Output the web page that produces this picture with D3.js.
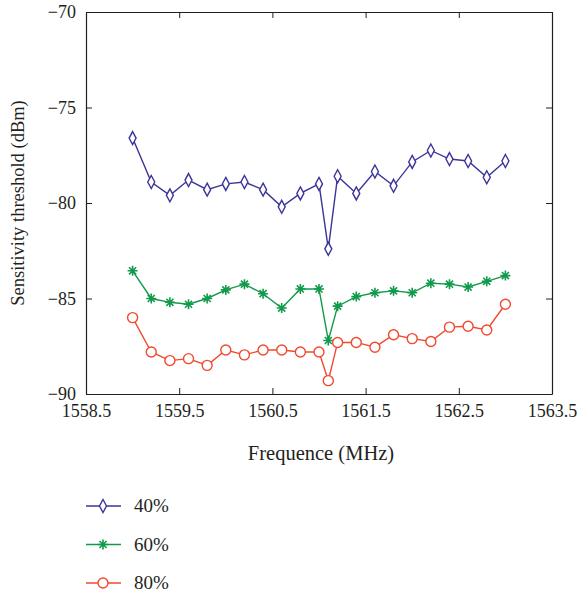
<!DOCTYPE html>
<html lang="en">
  <head>
    <meta charset="UTF-8" />
    <title>Sensitivity threshold</title>
    <script src="https://d3js.org/d3.v7.min.js"></script>
    <style>
      body { margin: 0; background: #fff; }
      svg text { font-family: "Liberation Serif", "Times New Roman", Times, "DejaVu Serif", serif !important; fill: #231f20; }
      .tick text { font-size: 18px; }
    </style>
  </head>
  <body>
    <svg id="chart" width="581" height="597"></svg>
    <script>
      // Data
      const freq = [1559.0, 1559.2, 1559.4, 1559.6, 1559.8, 1560.0, 1560.2, 1560.4, 1560.6, 1560.8, 1561.0,
                    1561.1, 1561.2, 1561.4, 1561.6, 1561.8, 1562.0, 1562.2, 1562.4, 1562.6, 1562.8, 1563.0];
      const s40 = [-76.6, -78.9, -79.6, -78.8, -79.3, -79.0, -78.9, -79.3, -80.2, -79.5, -79.0,
                   -82.4, -78.6, -79.5, -78.35, -79.1, -77.85, -77.25, -77.7, -77.8, -78.65, -77.8];
      const s60 = [-83.55, -85.0, -85.2, -85.3, -85.0, -84.55, -84.25, -84.75, -85.5, -84.5, -84.5,
                   -87.2, -85.4, -84.9, -84.7, -84.6, -84.7, -84.2, -84.25, -84.4, -84.1, -83.8];
      const s80 = [-86.0, -87.8, -88.25, -88.15, -88.5, -87.7, -87.95, -87.7, -87.7, -87.8, -87.8,
                   -89.3, -87.3, -87.3, -87.55, -86.9, -87.1, -87.25, -86.5, -86.45, -86.65, -85.3];
      const xTicks = [1558.5, 1559.5, 1560.5, 1561.5, 1562.5, 1563.5];
      const yTicks = [-90, -85, -80, -75, -70];

      const series = [
        { name: "40%", values: s40, color: "#3b3599", marker: "diamond" },
        { name: "60%", values: s60, color: "#129a4c", marker: "star" },
        { name: "80%", values: s80, color: "#f1492f", marker: "circle" },
      ];

      const margin = { top: 12, left: 86, right: 29, bottom: 203 };
      const width = 581 - margin.left - margin.right;
      const height = 597 - margin.top - margin.bottom;

      const svg = d3.select("#chart");
      const g = svg.append("g").attr("transform", `translate(${margin.left},${margin.top})`);

      const x = d3.scaleLinear().domain([1558.5, 1563.5]).range([0, width]);
      const y = d3.scaleLinear().domain([-90, -70]).range([height, 0]);

      const fmt = (d) => (d < 0 ? "\u2212" + Math.abs(d) : d);

      // Axes (box with inward ticks)
      const axisStyle = (sel) => {
        sel.attr("font-family", null);
        sel.select(".domain").attr("stroke", "#231f20").attr("stroke-width", 1.2);
        sel.selectAll(".tick line").attr("stroke", "#231f20");
      };
      g.append("g").attr("transform", `translate(0,${height})`)
        .call(d3.axisBottom(x).tickValues(xTicks).tickSize(-6).tickSizeOuter(0).tickPadding(10).tickFormat(d3.format(".1f")))
        .call(axisStyle);
      g.append("g")
        .call(d3.axisLeft(y).tickValues(yTicks).tickSize(-6).tickSizeOuter(0).tickPadding(10).tickFormat(fmt))
        .call(axisStyle);
      g.append("g")
        .call(d3.axisTop(x).tickValues(xTicks).tickSize(-6).tickSizeOuter(0).tickFormat(""))
        .call(axisStyle);
      g.append("g").attr("transform", `translate(${width},0)`)
        .call(d3.axisRight(y).tickValues(yTicks).tickSize(-6).tickSizeOuter(0).tickFormat(""))
        .call(axisStyle);

      // Markers
      function drawMarker(sel, type, color) {
        if (type === "diamond") {
          sel.append("path").attr("d", "M0,-6.5L3.5,0L0,6.5L-3.5,0Z")
            .attr("fill", "#fff").attr("stroke", color).attr("stroke-width", 1.4);
        } else if (type === "star") {
          const r = 5;
          let d = "";
          for (let k = 0; k < 4; k++) {
            const a = (k * Math.PI) / 4;
            d += `M${-r * Math.cos(a)},${-r * Math.sin(a)}L${r * Math.cos(a)},${r * Math.sin(a)}`;
          }
          sel.append("path").attr("d", d).attr("stroke", color).attr("stroke-width", 1.6);
        } else {
          sel.append("circle").attr("r", 5)
            .attr("fill", "#fff").attr("stroke", color).attr("stroke-width", 1.4);
        }
      }

      const line = d3.line().x((d, i) => x(freq[i])).y((d) => y(d));

      series.forEach((s) => {
        g.append("path").datum(s.values)
          .attr("fill", "none").attr("stroke", s.color).attr("stroke-width", 1.4)
          .attr("d", line);
        g.selectAll(null).data(s.values).join("g")
          .attr("transform", (d, i) => `translate(${x(freq[i])},${y(d)})`)
          .each(function () { drawMarker(d3.select(this), s.marker, s.color); });
      });

      // Axis titles
      svg.append("text")
        .attr("x", margin.left + width / 2 + 2).attr("y", 460)
        .attr("text-anchor", "middle").attr("font-size", 20.5)
        .text("Frequence (MHz)");
      svg.append("text")
        .attr("transform", `translate(24,${margin.top + height / 2}) rotate(-90)`)
        .attr("text-anchor", "middle").attr("font-size", 18.5)
        .text("Sensitivity threshold (dBm)");

      // Legend
      const legend = svg.append("g").attr("transform", "translate(86,506)");
      series.forEach((s, i) => {
        const row = legend.append("g").attr("transform", `translate(0,${i * 38.5})`);
        row.append("line").attr("x1", 0).attr("x2", 35).attr("stroke", s.color).attr("stroke-width", 1.4);
        drawMarker(row.append("g").attr("transform", "translate(17,0)"), s.marker, s.color);
        row.append("text").attr("x", 48).attr("y", 6).attr("font-size", 19).text(s.name);
      });
    </script>
  </body>
</html>
